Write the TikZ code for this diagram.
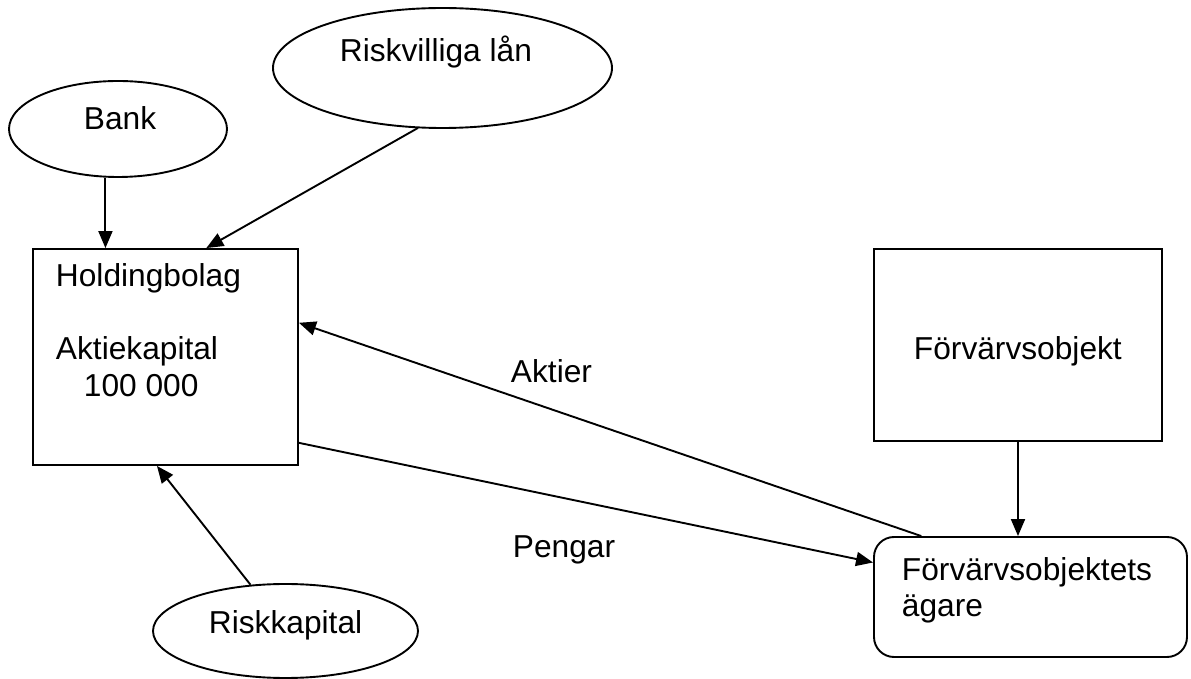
\documentclass[tikz,border=0pt]{standalone}
\usepackage{fontspec}
\setmainfont{Liberation Sans}
\usetikzlibrary{arrows.meta,shapes.geometric,calc}

\begin{document}
\begin{tikzpicture}[
  x=0.5pt, y=-0.5pt,
  line width=0.95pt,
  every node/.style={font=\fontsize{15.85}{18.3}\selectfont},
  shapebox/.style={draw, rectangle, inner sep=0pt},
  blob/.style={draw, ellipse, inner sep=0pt},
  txt/.style={inner sep=0pt, anchor=west, text height=0.716em, text depth=0pt},
  arr/.style={-{Triangle[length=8.5pt,width=7pt]}}
]
\useasboundingbox (0,0) rectangle (1191,679);

% sources of capital
\node[blob, minimum width=109pt, minimum height=48pt] (bank) at (118,129) {};
\node[blob, minimum width=169.5pt, minimum height=60pt] (rl) at (442.5,68) {};
\node[blob, minimum width=132.5pt, minimum height=47pt] (rk) at (285.5,631) {};

% companies
\node[shapebox, minimum width=132.5pt, minimum height=108pt] (hold) at (165.5,357) {};
\node[shapebox, minimum width=144pt, minimum height=96pt] (fo) at (1018,345) {};
\node[shapebox, rounded corners=10pt, minimum width=156.5pt, minimum height=60pt] (owner) at (1030.5,597) {};

% texts
\node[txt] (tbank) at (83,122) {Bank};
\node[txt] (trl) at (339,54) {Riskvilliga lån};
\node[txt] (trk) at (208,626) {Riskkapital};
\node[txt] (thold) at (55,279) {Holdingbolag};
\node[txt] (tak) at (55,352) {Aktiekapital};
\node[txt] (tsum) at (83,389) {100 000};
\node[txt] (tfo) at (913,352) {Förvärvsobjekt};
\node[txt] (tow1) at (901,573) {Förvärvsobjektets};
\node[txt] (tow2) at (901,609.5) {ägare};
\node[txt] (taktier) at (510,375) {Aktier};
\node[txt] (tpengar) at (512,550) {Pengar};

% connection points on the borders
\coordinate (bk) at ($(hold.north west)!0.275!(hold.north east)$);
\coordinate (rlin) at ($(hold.north west)!0.653!(hold.north east)$);
\coordinate (rkin) at ($(hold.south west)!0.468!(hold.south east)$);
\coordinate (akin) at ($(hold.north east)!0.343!(hold.south east)$);
\coordinate (peout) at ($(hold.north east)!0.894!(hold.south east)$);
\coordinate (akout) at ($(owner.north west)!0.153!(owner.north east)$);
\coordinate (pein) at ($(owner.north west)!0.217!(owner.south west)$);

% flows
\draw[arr] (bank.south -| bk) -- (bk);
\draw[arr] ($(rl.south)+(-24.5,-1)$) -- (rlin);
\draw[arr] ($(rk.north)+(-35,1.7)$) -- (rkin);
\draw[arr] (akout) -- (akin);
\draw[arr] (peout) -- (pein);
\draw[arr] (fo.south) -- (fo.south |- owner.north);
\end{tikzpicture}
\end{document}
